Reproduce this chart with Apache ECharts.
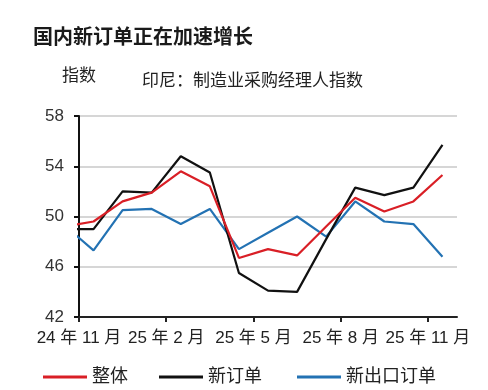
<!DOCTYPE html>
<html><head><meta charset="utf-8">
<script src="https://cdn.jsdelivr.net/npm/echarts@6/dist/echarts.min.js"></script>
<style>html,body{margin:0;padding:0;background:#fff}#c{width:488px;height:390px}</style>
</head><body><div id="c"></div>
<script>
// Months, Oct 2024 (partly clipped at the axis start) to Nov 2025
const months = ['24年10月','24年11月','24年12月','25年1月','25年2月','25年3月','25年4月','25年5月','25年6月','25年7月','25年8月','25年9月','25年10月','25年11月'];
const tickLabels = ['24 年 11 月','25 年 2 月','25 年 5 月','25 年 8 月','25 年 11 月'];
const overall   = [49.2, 49.6, 51.2, 51.9, 53.6, 52.4, 46.7, 47.4, 46.9, 49.2, 51.5, 50.4, 51.2, 53.3];
const newOrders = [49.0, 49.0, 52.0, 51.9, 54.8, 53.5, 45.5, 44.1, 44.0, 48.2, 52.3, 51.7, 52.3, 55.7];
const exportOrd = [49.3, 47.3, 50.5, 50.6, 49.4, 50.6, 47.4, 48.7, 50.0, 48.4, 51.2, 49.6, 49.4, 46.8];
const seriesNames = ['整体','新订单','新出口订单'];
const colors = ['#d91f26','#111111','#2372b3'];

const FONT = '"Liberation Sans","Noto Sans CJK SC",sans-serif';
const toPts = arr => arr.map((v,k)=>[k-0.5, v]);
const tickVals = tickLabels.map((_,i)=>i*3);
const legendLefts = [38, 154, 292];

const chart = echarts.init(document.getElementById('c'), null, {renderer:'canvas'});
chart.setOption({
  animation:false,
  color: colors,
  title:[
    {text:'国内新订单正在加速增长', left:28, top:23,
     textStyle:{fontFamily:FONT, fontSize:20, fontWeight:'bold', color:'#1a1a1a'}},
    {text:'印尼：制造业采购经理人指数', left:137, top:68,
     textStyle:{fontFamily:FONT, fontSize:17, fontWeight:'normal', color:'#222'}}
  ],
  grid:{left:79, right:31, top:116, bottom:73, containLabel:false},
  xAxis:{
    type:'value', min:0, max:13,
    axisLine:{show:true, lineStyle:{color:'#222', width:2}},
    axisTick:{show:true, customValues:tickVals, length:5, lineStyle:{color:'#222', width:2}},
    axisLabel:{customValues:tickVals, margin:13, fontFamily:FONT, fontSize:17, color:'#222',
      formatter:v=>tickLabels[Math.round(v/3)]||''},
    splitLine:{show:false}
  },
  yAxis:{
    type:'value', min:42, max:58, interval:4,
    name:'指数', nameLocation:'end', nameGap:31,
    nameTextStyle:{fontFamily:FONT, fontSize:17, color:'#222', align:'center'},
    axisLine:{show:true, lineStyle:{color:'#111', width:2}},
    axisTick:{show:true, length:5, lineStyle:{color:'#111', width:2}},
    axisLabel:{margin:15, fontFamily:FONT, fontSize:17, color:'#333'},
    splitLine:{show:true, lineStyle:{color:'#c8c8c8', width:1.5}}
  },
  legend: seriesNames.map((n,i)=>({
    left:legendLefts[i], top:363, itemWidth:44, itemHeight:3, icon:'rect',
    textStyle:{fontFamily:FONT, fontSize:18, color:'#222'},
    data:[n]
  })),
  series:[
    {name:seriesNames[0], type:'line', data:toPts(overall), symbol:'none', clip:true, lineStyle:{width:2.2, color:colors[0]}, z:3},
    {name:seriesNames[1], type:'line', data:toPts(newOrders), symbol:'none', clip:true, lineStyle:{width:2.2, color:colors[1]}, z:2},
    {name:seriesNames[2], type:'line', data:toPts(exportOrd), symbol:'none', clip:true, lineStyle:{width:2.2, color:colors[2]}, z:1}
  ]
});
</script></body></html>
